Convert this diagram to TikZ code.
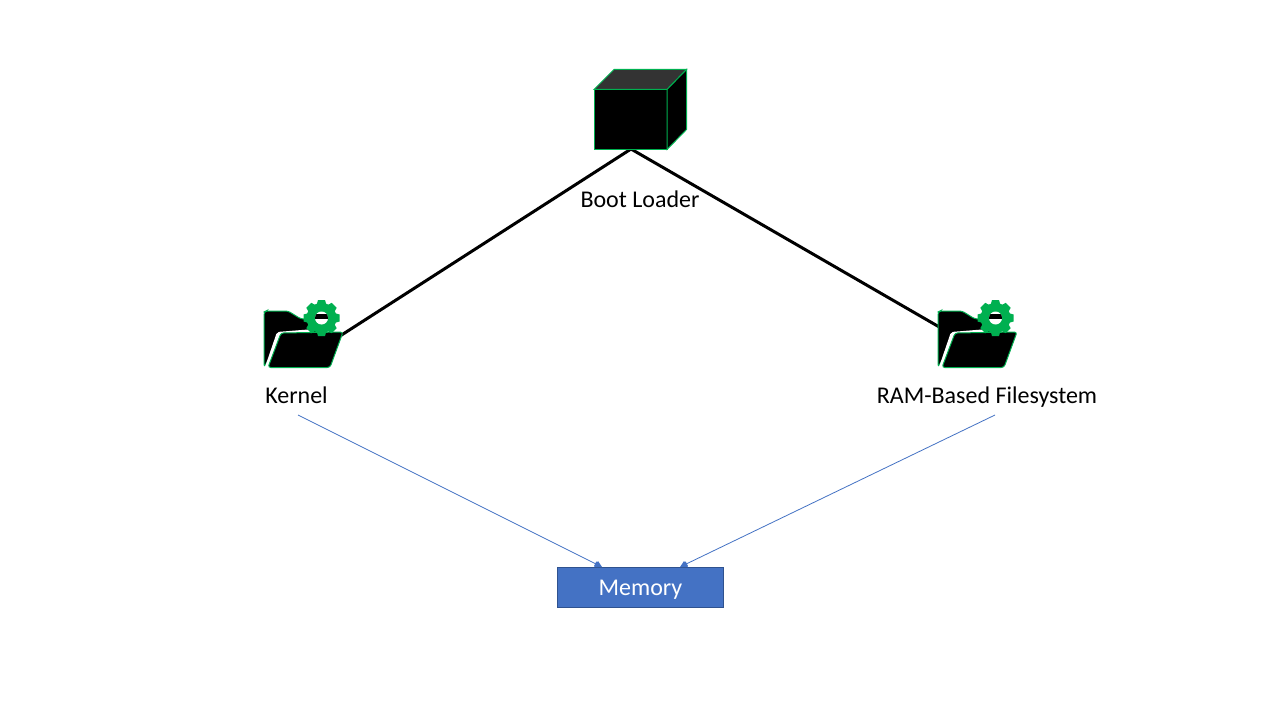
\documentclass[tikz,border=0pt]{standalone}
\usepackage{fontspec}
\setmainfont{Carlito}
\usetikzlibrary{arrows.meta}
\definecolor{grn}{HTML}{00B050}
\definecolor{blu}{HTML}{4472C4}
\definecolor{bluedge}{HTML}{2F528F}
\tikzset{
  lbl/.style={inner sep=0pt,text height=11.25pt,text depth=0pt,font=\fontsize{18}{22}\selectfont,text=black},
  thick line/.style={draw=black,line width=2.25pt},
  thin link/.style={draw=blu,line width=0.6pt,-{Latex[length=4pt,width=4pt]}},
  tiptri/.style={fill=blu},
  fold/.pic={
    \fill[black,draw=grn,line width=0.75pt,rounded corners=2pt]
      (0,68) -- (0,13) -- (2,12) -- (24,12) -- (37,20) -- (60,20) -- (60,40) -- (5,60) -- cycle;
    \fill[white,rounded corners=1.5pt] (1,68) -- (13,33) -- (50,30) -- (50,33) -- (17,35) -- (5,68) -- cycle;
    \fill[black,draw=grn,line width=0.75pt,rounded corners=2pt]
      (4,68.5) -- (17,34) -- (79,33) -- (66,68.5) -- cycle;
    \fill[grn] (57.5,19) circle (15);
    \foreach \a in {0,45,...,315}
      \fill[grn,rotate around={\a:(57.5,19)}] (54,1) -- (61,1) -- (63,8) -- (52,8) -- cycle;
    \fill[white] (57.5,19) circle (6.5);
    \begin{scope}
      \clip (57.5,19) circle (6.5);
      \fill[black] (50,14.5) rectangle (65,19.5);
    \end{scope}
  }
}
\begin{document}
\begin{tikzpicture}[x=0.75pt,y=-0.75pt]
\useasboundingbox (0,0) rectangle (1280,720);
\fill[white] (0,0) rectangle (1280,720);
\coordinate (bootfoot) at (631,149);
\coordinate (kernelend) at (340,336);
\coordinate (ramend) at (941,328);
\coordinate (kernelfoot) at (298,415);
\coordinate (ramfoot) at (995,415);
\coordinate (memleft) at (600,566);
\coordinate (memright) at (682,566);
\draw[thick line] (kernelend) -- (bootfoot) -- (ramend);
\node[draw=grn,fill=black,line width=0.75pt,minimum width=54.5pt,minimum height=45pt,inner sep=0pt,anchor=north west] (cube) at (594,89.5) {};
\fill[draw=grn,line width=0.75pt,fill=black!80!white] (594,89.5) -- (614,69.5) -- (686.5,69.5) -- (667,89.5) -- cycle;
\fill[black,draw=grn,line width=0.75pt] (667,89.5) -- (686.5,69.5) -- (686.5,129.5) -- (667,149.5) -- cycle;
\pic at (264,299) {fold};
\pic at (938,299) {fold};
\node[lbl] (boot) at (640,199.7) {Boot Loader};
\node[lbl] (kernel) at (296.5,395.7) {Kernel};
\node[lbl] (ram) at (987,395.7) {RAM-Based Filesystem};
\node[draw=bluedge,fill=blu,line width=0.75pt,minimum width=124.5pt,minimum height=30pt,inner sep=0pt,text=white,text height=11.25pt,text depth=0pt,font=\fontsize{18}{22}\selectfont,anchor=north west] (mem) at (557,567) {Memory};
\draw[thin link] (kernelfoot) -- (memleft);
\draw[thin link] (ramfoot) -- (memright);
\fill[tiptri] (594,567) -- (598,561) -- (602,567) -- cycle;
\fill[tiptri] (680,567) -- (684,561) -- (688,567) -- cycle;
\end{tikzpicture}
\end{document}
